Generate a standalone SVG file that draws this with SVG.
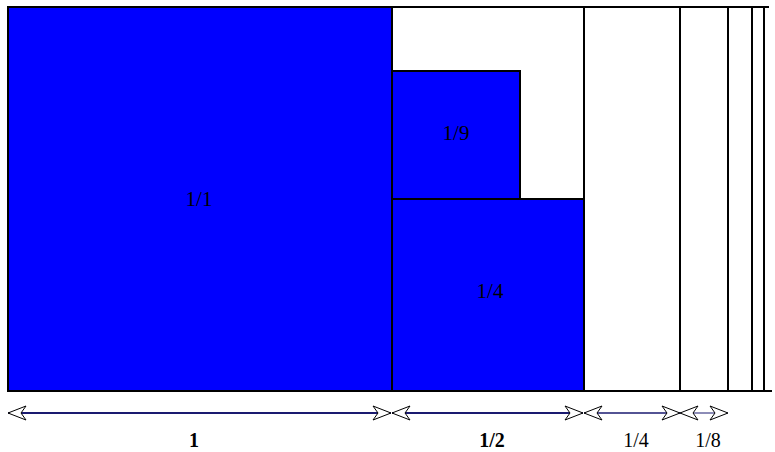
<svg xmlns="http://www.w3.org/2000/svg" width="775" height="452" viewBox="0 0 775 452">
<style>
.sq{fill:#0000ff;stroke:#000;stroke-width:2}
.ln{stroke:#000;stroke-width:2;fill:none}
.t{font-family:"Liberation Serif","Times New Roman",serif;font-size:21px;fill:#000;text-anchor:middle}
.lb{font-size:20px}
.b{font-weight:bold}
.ar{stroke:#1a1a70;fill:none}
</style>
<defs>
<marker id="ah" markerUnits="userSpaceOnUse" markerWidth="22" markerHeight="18" viewBox="-20 -9 22 18" refX="0" refY="0" orient="auto-start-reverse">
<path d="M0,0 L-18,-7 L-13,0 L-18,7 Z" fill="#fff" stroke="#000" stroke-width="1"/>
</marker>
</defs>
<rect width="775" height="452" fill="#fff"/>
<g id="columns">
<line class="ln" x1="7" y1="7" x2="769" y2="7"/>
<line class="ln" x1="7" y1="391" x2="772" y2="391"/>
<line class="ln" x1="584" y1="7" x2="584" y2="391"/>
<line class="ln" x1="680" y1="7" x2="680" y2="391"/>
<line class="ln" x1="728" y1="7" x2="728" y2="391"/>
<line class="ln" x1="752" y1="7" x2="752" y2="391"/>
<line class="ln" x1="764" y1="7" x2="764" y2="391"/>
</g>
<g id="sq1">
<rect class="sq" x="8" y="7" width="384" height="384"/>
<text class="t" x="199" y="206">1/1</text>
</g>
<g id="sq9">
<rect class="sq" x="392" y="71" width="128" height="128"/>
<text class="t" x="456" y="140">1/9</text>
</g>
<g id="sq4">
<rect class="sq" x="392" y="199" width="192" height="192"/>
<text class="t" x="490" y="298">1/4</text>
</g>
<g id="connectors">
<line class="ar" stroke-width="2" x1="8" y1="413" x2="391" y2="413" marker-start="url(#ah)" marker-end="url(#ah)"/>
<line class="ar" stroke-width="2" x1="392" y1="413" x2="583" y2="413" marker-start="url(#ah)" marker-end="url(#ah)"/>
<line class="ar" stroke-width="1.3" stroke="#3a3a80" x1="584" y1="413" x2="680" y2="413" marker-start="url(#ah)" marker-end="url(#ah)"/>
<line class="ar" stroke-width="1" stroke="#3a3a80" x1="680" y1="413" x2="728" y2="413" marker-start="url(#ah)" marker-end="url(#ah)"/>
</g>
<g id="labels">
<text class="t lb b" x="194" y="447">1</text>
<text class="t lb b" x="492" y="447">1/2</text>
<text class="t lb" x="636" y="447">1/4</text>
<text class="t lb" x="708" y="447">1/8</text>
</g>
</svg>
